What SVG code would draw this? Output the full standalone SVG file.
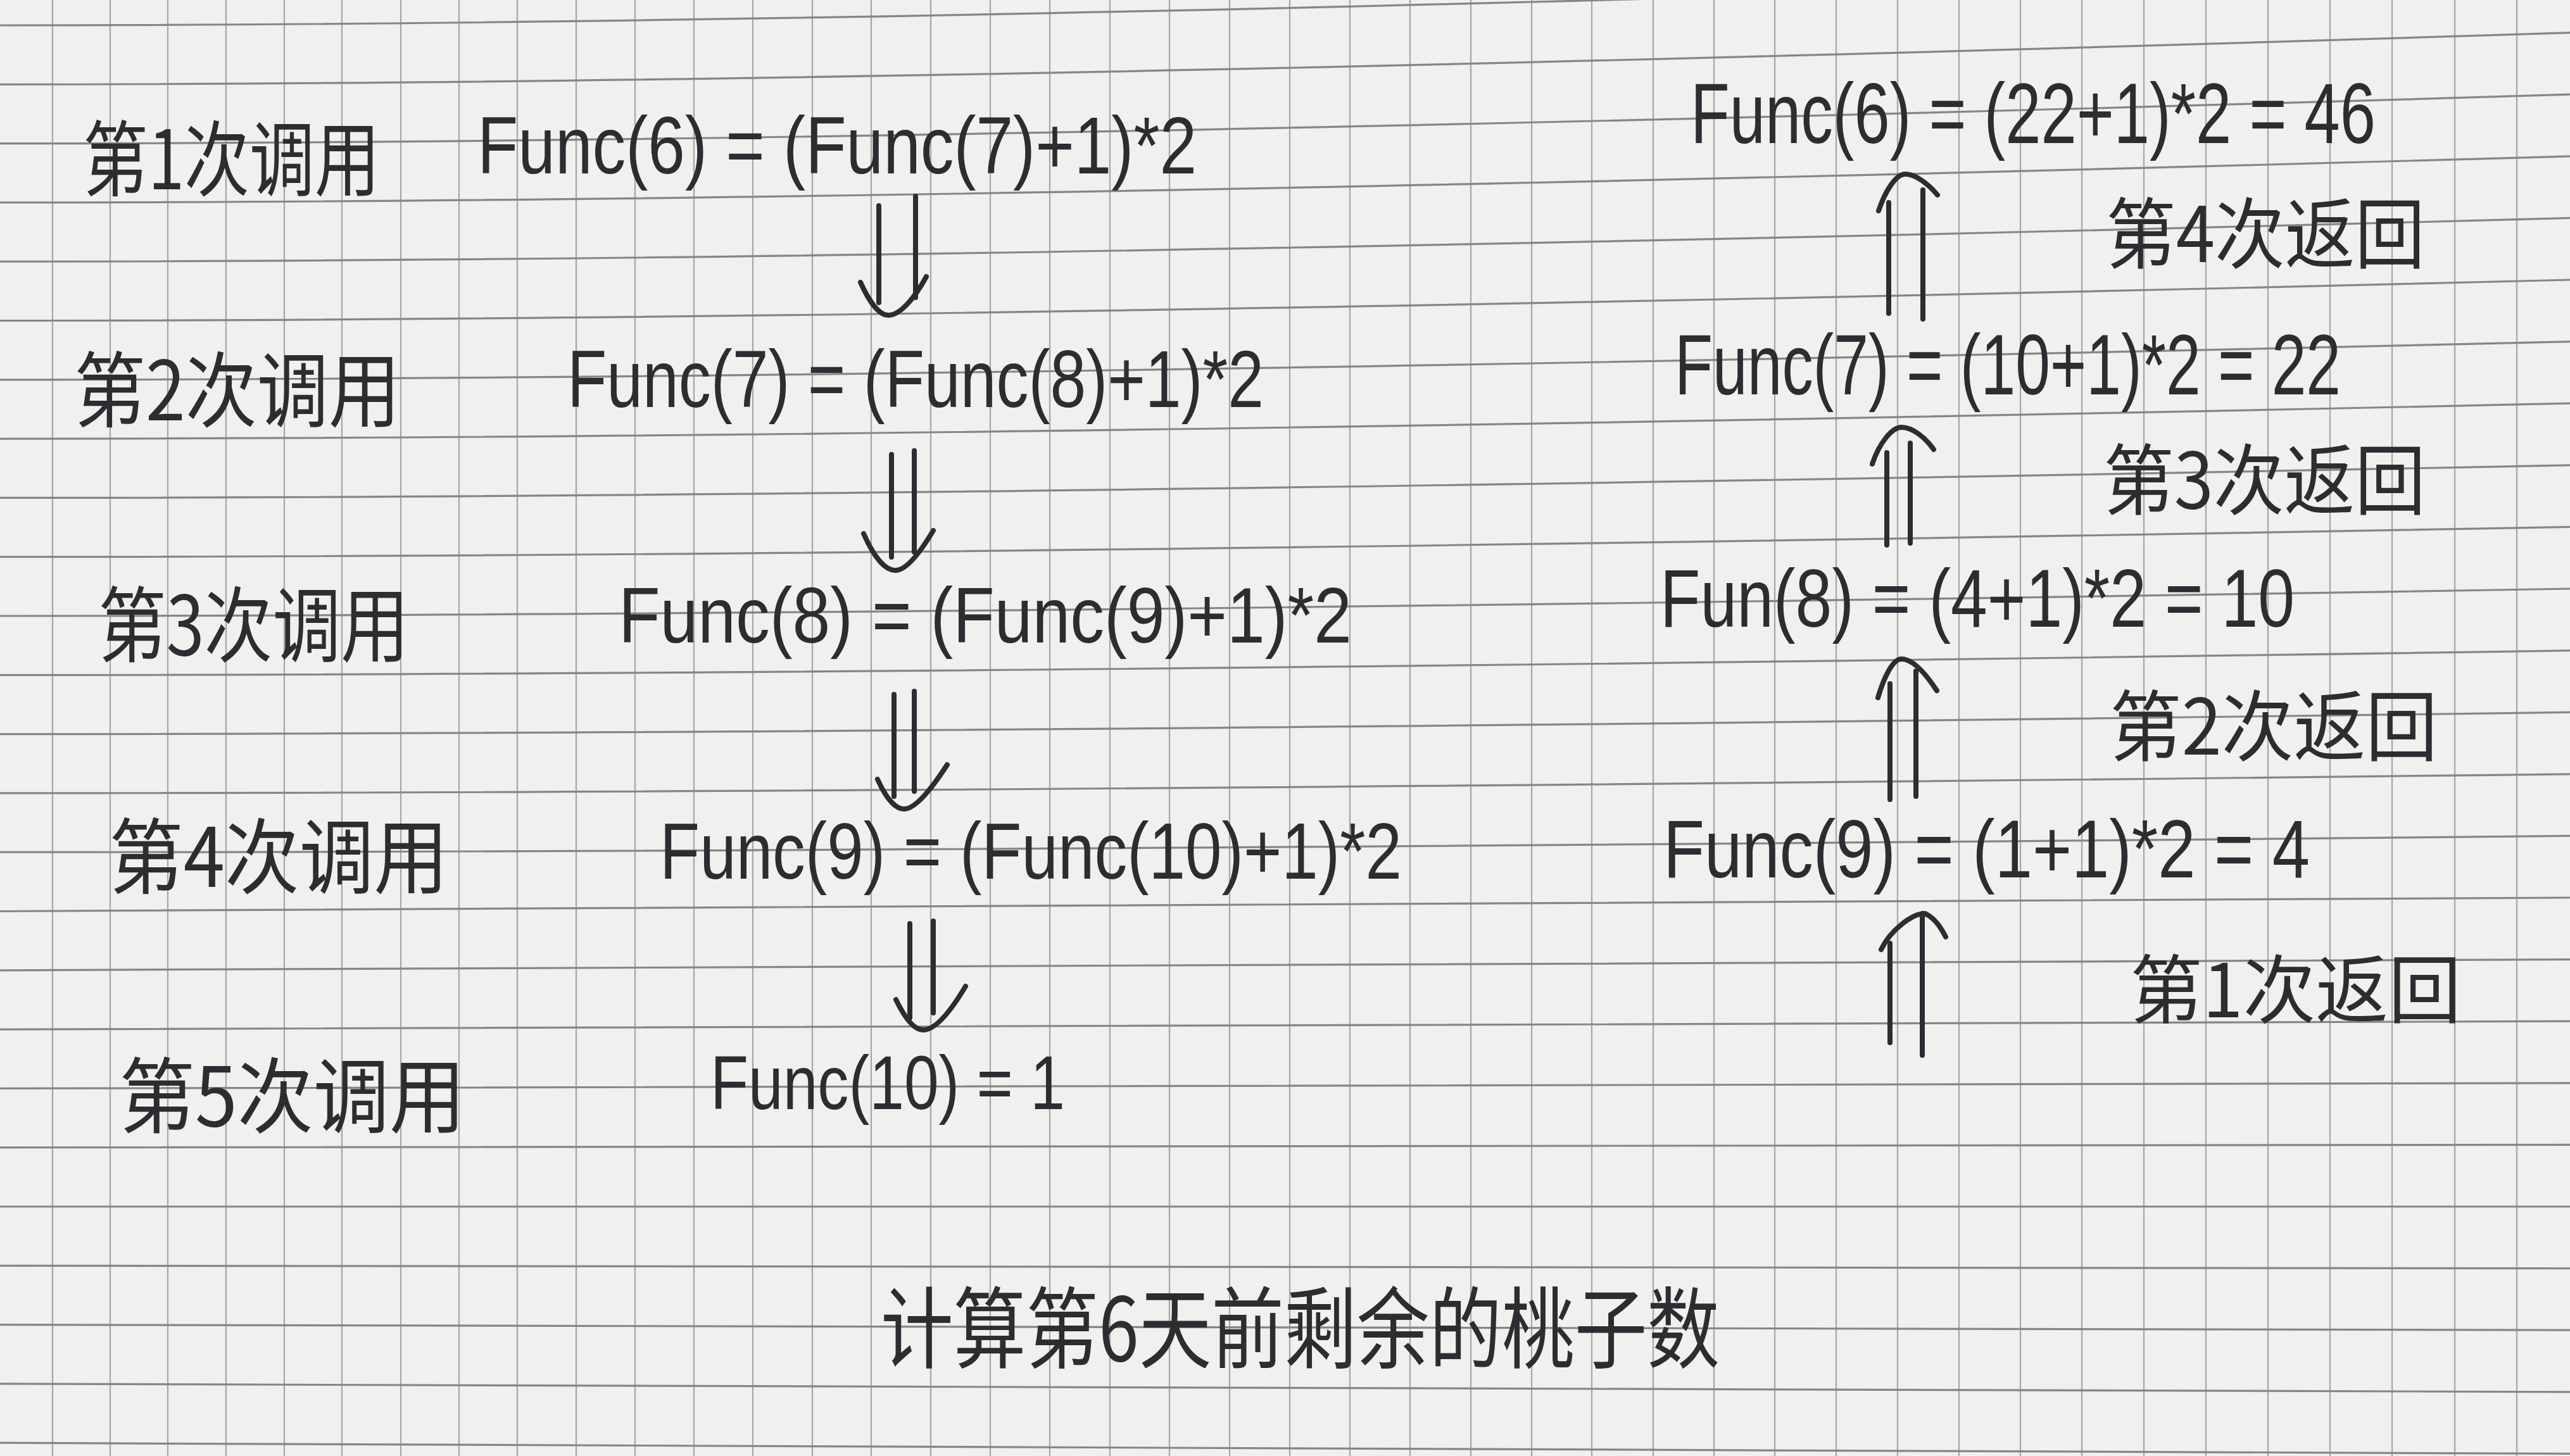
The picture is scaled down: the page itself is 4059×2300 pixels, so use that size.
<svg xmlns="http://www.w3.org/2000/svg" xmlns:xlink="http://www.w3.org/1999/xlink" width="4059" height="2300" viewBox="0 0 4059 2300">
<style>
.paper{fill:#f0f0ee}
.gv{stroke:#a6a6a6;stroke-width:2.2;fill:none}
.gh{stroke:#868686;stroke-width:3.2;fill:none}
.cjk{font-family:"Noto Sans CJK SC","Noto Sans CJK TC",sans-serif;fill:#2b2d31}
.lat{font-family:"Liberation Sans","DejaVu Sans",sans-serif;fill:#2b2d31}
.arr{stroke:#2b2d31;stroke-width:8;fill:none;stroke-linecap:round;stroke-linejoin:round}
</style>
<rect class="paper" x="0" y="0" width="4059" height="2300"/>
<g id="grid">
<path class="gv" d="M83,0V2300M174,0V2300M265,0V2300M357,0V2300M449,0V2300M540,0V2300M633,0V2300M725,0V2300M817,0V2300M910,0V2300M1003,0V2300M1096,0V2300M1189,0V2300M1283,0V2300M1376,0V2300M1470,0V2300M1564,0V2300M1658,0V2300M1753,0V2300M1847,0V2300M1942,0V2300M2037,0V2300M2132,0V2300M2227,0V2300M2323,0V2300M2419,0V2300M2514,0V2300M2611,0V2300M2707,0V2300M2803,0V2300M2900,0V2300M2997,0V2300M3094,0V2300M3191,0V2300M3288,0V2300M3386,0V2300M3484,0V2300M3582,0V2300M3680,0V2300M3778,0V2300M3877,0V2300M3975,0V2300"/>
<path class="gh" d="M0,40Q1500,40 4059,-46M0,133.3Q1500,133.3 4059,51.6M0,226.6Q1500,226.6 4059,149.2M0,319.9Q1500,319.9 4059,246.8M0,413.2Q1500,413.2 4059,344.4M0,506.5Q1500,506.5 4059,442M0,599.8Q1500,599.8 4059,539.6M0,693.1Q1500,693.1 4059,637.2M0,786.4Q1500,786.4 4059,734.8M0,879.7Q1500,879.7 4059,832.4M0,973Q1500,973 4059,930M0,1066.3Q1500,1066.3 4059,1027.6M0,1159.6Q1500,1159.6 4059,1125.2M0,1252.9Q1500,1252.9 4059,1222.8M0,1346.2Q1500,1346.2 4059,1320.4M0,1439.5Q1500,1439.5 4059,1418M0,1532.8Q1500,1532.8 4059,1515.6M0,1626.1Q1500,1626.1 4059,1613.2M0,1719.4Q1500,1719.4 4059,1710.8M0,1812.7Q1500,1812.7 4059,1808.4M0,1906Q1500,1906 4059,1906M0,1999.3Q1500,1999.3 4059,2003.6M0,2092.6Q1500,2092.6 4059,2101.2M0,2185.9Q1500,2185.9 4059,2198.8M0,2279.2Q1500,2279.2 4059,2296.4"/>
</g>
<g id="call1-label"><text class="cjk" x="131" y="299" font-size="130" textLength="469" lengthAdjust="spacingAndGlyphs">第1次调用</text></g>
<g id="call2-label"><text class="cjk" x="117" y="664" font-size="130" textLength="515" lengthAdjust="spacingAndGlyphs">第2次调用</text></g>
<g id="call3-label"><text class="cjk" x="155" y="1035" font-size="130" textLength="491" lengthAdjust="spacingAndGlyphs">第3次调用</text></g>
<g id="call4-label"><text class="cjk" x="172" y="1401" font-size="130" textLength="536" lengthAdjust="spacingAndGlyphs">第4次调用</text></g>
<g id="call5-label"><text class="cjk" x="188" y="1779" font-size="130" textLength="547" lengthAdjust="spacingAndGlyphs">第5次调用</text></g>
<g id="call1"><text class="lat" x="754" y="274" font-size="128" textLength="1136" lengthAdjust="spacingAndGlyphs">Func(6) = (Func(7)+1)*2</text></g>
<g id="call2"><text class="lat" x="896" y="643" font-size="128" textLength="1100" lengthAdjust="spacingAndGlyphs">Func(7) = (Func(8)+1)*2</text></g>
<g id="call3"><text class="lat" x="977" y="1015" font-size="124" textLength="1158" lengthAdjust="spacingAndGlyphs">Func(8) = (Func(9)+1)*2</text></g>
<g id="call4"><text class="lat" x="1042" y="1388" font-size="126" textLength="1172" lengthAdjust="spacingAndGlyphs">Func(9) = (Func(10)+1)*2</text></g>
<g id="call5"><text class="lat" x="1122" y="1752" font-size="120" textLength="560" lengthAdjust="spacingAndGlyphs">Func(10) = 1</text></g>
<g id="ret4"><text class="lat" x="2670" y="226" font-size="135" textLength="1082" lengthAdjust="spacingAndGlyphs">Func(6) = (22+1)*2 = 46</text></g>
<g id="ret3"><text class="lat" x="2645" y="623" font-size="135" textLength="1052" lengthAdjust="spacingAndGlyphs">Func(7) = (10+1)*2 = 22</text></g>
<g id="ret2"><text class="lat" x="2622" y="990" font-size="130" textLength="1002" lengthAdjust="spacingAndGlyphs">Fun(8) = (4+1)*2 = 10</text></g>
<g id="ret1"><text class="lat" x="2627" y="1386" font-size="130" textLength="1021" lengthAdjust="spacingAndGlyphs">Func(9) = (1+1)*2 = 4</text></g>
<g id="ret4-label"><text class="cjk" x="3326" y="414" font-size="122" textLength="504" lengthAdjust="spacingAndGlyphs">第4次返回</text></g>
<g id="ret3-label"><text class="cjk" x="3322" y="803" font-size="122" textLength="509" lengthAdjust="spacingAndGlyphs">第3次返回</text></g>
<g id="ret2-label"><text class="cjk" x="3332" y="1192" font-size="122" textLength="518" lengthAdjust="spacingAndGlyphs">第2次返回</text></g>
<g id="ret1-label"><text class="cjk" x="3364" y="1607" font-size="118" textLength="523" lengthAdjust="spacingAndGlyphs">第1次返回</text></g>
<g id="title"><text class="cjk" x="1391" y="2150" font-size="140" textLength="1325" lengthAdjust="spacingAndGlyphs">计算第6天前剩余的桃子数</text></g>
<g id="connectors">
<g id="down1"><path class="arr" d="M1388,325V478M1446,310V470M1359,446C1372,475 1388,498 1403,498C1422,498 1445,470 1463,437"/></g>
<g id="down2"><path class="arr" d="M1408,718V880M1444,712V872M1364,843C1378,875 1396,901 1414,901C1432,901 1455,870 1474,838"/></g>
<g id="down3"><path class="arr" d="M1412,1097V1258M1444,1092V1250M1386,1231C1398,1258 1413,1278 1428,1278C1446,1278 1472,1245 1496,1208"/></g>
<g id="down4"><path class="arr" d="M1437,1459V1608M1474,1455V1600M1415,1579C1428,1606 1443,1627 1458,1627C1478,1627 1503,1595 1525,1558"/></g>
<g id="up4"><path class="arr" d="M2983,320V495M3037,300V504M2967,333C2978,300 2995,275 3009,275C3025,275 3045,290 3060,308"/></g>
<g id="up3"><path class="arr" d="M2980,715V861M3017,700V858M2957,733C2968,700 2988,675 3003,675C3020,675 3040,690 3054,710"/></g>
<g id="up2"><path class="arr" d="M2985,1080V1263M3026,1060V1258M2966,1102C2976,1068 2990,1041 3003,1041C3022,1041 3042,1065 3059,1091"/></g>
<g id="up1"><path class="arr" d="M2985,1490V1647M3036,1443V1667M2971,1500C2985,1470 3020,1443 3040,1443C3052,1448 3064,1462 3073,1480"/></g>
</g>
</svg>
